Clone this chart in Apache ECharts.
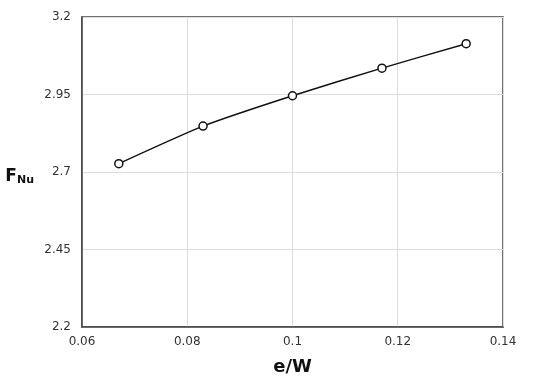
<!DOCTYPE html>
<html>
<head>
<meta charset="utf-8">
<script src="https://cdn.jsdelivr.net/npm/echarts@6/dist/echarts.min.js"></script>
<style>
  html, body { margin: 0; padding: 0; background: #fff; }
  #chart { width: 550px; height: 381px; }
</style>
</head>
<body>
<div id="chart"></div>
<script>
// e/W ratio vs F_Nu
const eW = [0.067, 0.083, 0.1, 0.117, 0.133]
const fNu = [2.727, 2.848, 2.946, 3.035, 3.114]

const chart = echarts.init(document.getElementById('chart'))

const option = {
  animation: false,
  grid: {
    left: 82, right: 47, top: 17, bottom: 53,
    show: true,
    borderColor: '#444',
    borderWidth: 1.5
  },
  xAxis: {
    type: 'value',
    min: 0.06, max: 0.14, interval: 0.02,
    name: 'e/W',
    nameLocation: 'middle',
    nameGap: 31,
    nameTextStyle: { fontFamily: 'DejaVu Sans', fontWeight: 'bold', fontSize: 18, color: '#111' },
    axisLine: { show: true, lineStyle: { color: '#444', width: 1.5 } },
    axisTick: { show: false },
    axisLabel: { fontFamily: 'DejaVu Sans', fontSize: 12, color: '#333', margin: 9 },
    splitLine: { show: true, lineStyle: { color: '#ddd', width: 1 } }
  },
  yAxis: {
    type: 'value',
    min: 2.2, max: 3.2, interval: 0.25,
    name: '{f|F}{s|Nu}',
    nameLocation: 'middle',
    nameRotate: 0,
    nameGap: 48,
    nameTextStyle: {
      padding: [8, 0, 0, 0],
      rich: {
        f: { fontFamily: 'DejaVu Sans', fontWeight: 'bold', fontSize: 17, color: '#111', verticalAlign: 'bottom' },
        s: { fontFamily: 'DejaVu Sans', fontWeight: 'bold', fontSize: 11, color: '#111', padding: [8, 0, 0, 0], verticalAlign: 'bottom' }
      }
    },
    axisLine: { show: true, lineStyle: { color: '#444', width: 1.5 } },
    axisTick: { show: false },
    axisLabel: { fontFamily: 'DejaVu Sans', fontSize: 12, color: '#333', margin: 11 },
    splitLine: { show: true, lineStyle: { color: '#ddd', width: 1 } }
  },
  series: [{
    type: 'line',
    data: eW.map((x, i) => [x, fNu[i]]),
    smooth: 0.2,
    symbol: 'circle',
    symbolSize: 8,
    lineStyle: { color: '#111', width: 1.5 },
    itemStyle: { color: '#fff', borderColor: '#111', borderWidth: 1.5 }
  }]
}

chart.setOption(option)
</script>
</body>
</html>
